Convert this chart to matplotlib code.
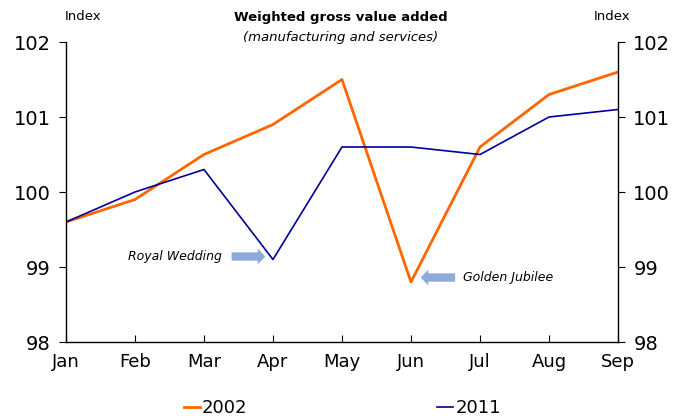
import matplotlib
matplotlib.use('Agg')
import matplotlib.pyplot as plt

# Dados
months = ['Jan', 'Feb', 'Mar', 'Apr', 'May', 'Jun', 'Jul', 'Aug', 'Sep']
v2002 = [99.6, 99.9, 100.5, 100.9, 101.5, 98.8, 100.6, 101.3, 101.6]
v2011 = [99.6, 100.0, 100.3, 99.1, 100.6, 100.6, 100.5, 101.0, 101.1]

plt.rcParams['font.family'] = ['Verdana', 'DejaVu Sans']

fig = plt.figure(figsize=(6.78, 4.18), dpi=100)
ax = fig.add_axes([0.0973, 0.1818, 0.8142, 0.7177])
x = list(range(len(months)))

l1, = ax.plot(x, v2002, color='#FF6600', lw=2.0, label='2002')
l2, = ax.plot(x, v2011, color='#000099', lw=1.2, label='2011')

ax.set_xlim(0, len(months) - 1)
ax.set_ylim(98, 102)
ax.set_yticks([98, 99, 100, 101, 102])
ax.set_xticks(x)
ax.set_xticklabels(months)
ax.spines['top'].set_visible(False)
for s in ['left', 'right', 'bottom']:
    ax.spines[s].set_linewidth(1.0)
ax.tick_params(axis='y', which='both', direction='out', length=5, labelsize=14,
               left=True, right=True, labelleft=True, labelright=True, pad=6)
ax.tick_params(axis='x', direction='in', length=5, labelsize=13, pad=8)

# Rótulos "Index"
fig.text(83 / 678, 1 - 16 / 418, 'Index', ha='center', va='center', fontsize=9.5)
fig.text(612 / 678, 1 - 16 / 418, 'Index', ha='center', va='center', fontsize=9.5)

# Título
fig.text(341 / 678, 1 - 18 / 418, 'Weighted gross value added', ha='center', va='center',
         fontsize=9.5, fontweight='bold')
fig.text(341 / 678, 1 - 37 / 418, '(manufacturing and services)', ha='center', va='center',
         fontsize=9.5, style='italic')

# Anotações com setas
arrow_col = '#8EA9DB'
estilo = 'simple,head_length=0.55,head_width=1.15,tail_width=0.6'
ax.annotate('', xy=(2.93, 99.14), xytext=(2.36, 99.14),
            arrowprops=dict(arrowstyle=estilo, color=arrow_col, lw=0))
ax.text(2.26, 99.14, 'Royal Wedding', ha='right', va='center', fontsize=9, style='italic')
ax.annotate('', xy=(5.1, 98.86), xytext=(5.68, 98.86),
            arrowprops=dict(arrowstyle=estilo, color=arrow_col, lw=0))
ax.text(5.76, 98.86, 'Golden Jubilee', ha='left', va='center', fontsize=9, style='italic')

# Legenda
fig.legend(handles=[l1, l2], loc='center', bbox_to_anchor=(0.505, 1 - 408 / 418), ncol=2,
           frameon=False, fontsize=13, handlelength=0.9, handletextpad=0.1,
           columnspacing=10.5, borderpad=0.1)

fig.savefig('out.png', dpi=100)
